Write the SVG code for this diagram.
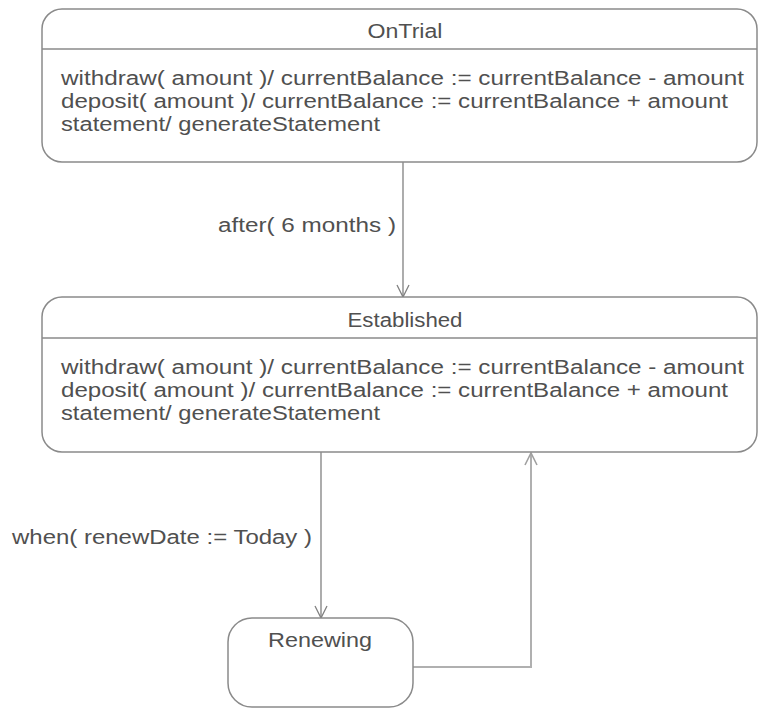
<svg xmlns="http://www.w3.org/2000/svg" width="758" height="708" viewBox="0 0 758 708">
<defs>
<style>
.box{fill:#fff;stroke:#8a8a8a;stroke-width:1.5}
.div{stroke:#8a8a8a;stroke-width:1.5}
.t{font-family:"Liberation Sans",Arial,sans-serif;font-size:20px;fill:#505050}
.c{text-anchor:middle}
.edge{fill:none;stroke:#808080;stroke-width:1.3}
.edge2{fill:none;stroke:#b0b0b0;stroke-width:2}
</style>
<marker id="open" viewBox="0 0 14 14" refX="13" refY="7" markerWidth="14" markerHeight="14" markerUnits="userSpaceOnUse" orient="auto">
<path d="M1,1 L13,7 L1,13" fill="none" stroke="#808080" stroke-width="1.3"/>
</marker>
<marker id="open2" viewBox="0 0 14 14" refX="13" refY="7" markerWidth="14" markerHeight="14" markerUnits="userSpaceOnUse" orient="auto">
<path d="M1,1 L13,7 L1,13" fill="none" stroke="#a0a0a0" stroke-width="1.6"/>
</marker>
</defs>
<rect width="758" height="708" fill="#fff"/>
<g id="connectors">
<line class="edge" x1="403" y1="162" x2="403" y2="297" marker-end="url(#open)"/>
<text class="t" x="218" y="232" textLength="178" lengthAdjust="spacingAndGlyphs">after( 6 months )</text>
<line class="edge" x1="321" y1="452" x2="321" y2="618" marker-end="url(#open)"/>
<text class="t" x="12" y="544" textLength="300" lengthAdjust="spacingAndGlyphs">when( renewDate := Today )</text>
<polyline class="edge2" points="413,667 531,667 531,453" marker-end="url(#open2)"/>
</g>
<g id="OnTrial">
<rect class="box" x="42" y="9" width="715" height="153" rx="20" ry="20"/>
<line class="div" x1="42" y1="49" x2="757" y2="49"/>
<text class="t c" x="405" y="38" textLength="75" lengthAdjust="spacingAndGlyphs">OnTrial</text>
<text class="t" x="61" y="85" textLength="683" lengthAdjust="spacingAndGlyphs">withdraw( amount )/ currentBalance := currentBalance - amount</text>
<text class="t" x="61" y="108" textLength="667" lengthAdjust="spacingAndGlyphs">deposit( amount )/ currentBalance := currentBalance + amount</text>
<text class="t" x="61" y="131" textLength="319" lengthAdjust="spacingAndGlyphs">statement/ generateStatement</text>
</g>
<g id="Established">
<rect class="box" x="42" y="297" width="715" height="155" rx="20" ry="20"/>
<line class="div" x1="42" y1="338" x2="757" y2="338"/>
<text class="t c" x="405" y="327" textLength="115" lengthAdjust="spacingAndGlyphs">Established</text>
<text class="t" x="61" y="374" textLength="683" lengthAdjust="spacingAndGlyphs">withdraw( amount )/ currentBalance := currentBalance - amount</text>
<text class="t" x="61" y="397" textLength="667" lengthAdjust="spacingAndGlyphs">deposit( amount )/ currentBalance := currentBalance + amount</text>
<text class="t" x="61" y="420" textLength="319" lengthAdjust="spacingAndGlyphs">statement/ generateStatement</text>
</g>
<g id="Renewing">
<rect class="box" x="228" y="618" width="185" height="89" rx="24" ry="24"/>
<text class="t c" x="320" y="647" textLength="104" lengthAdjust="spacingAndGlyphs">Renewing</text>
</g>
</svg>
